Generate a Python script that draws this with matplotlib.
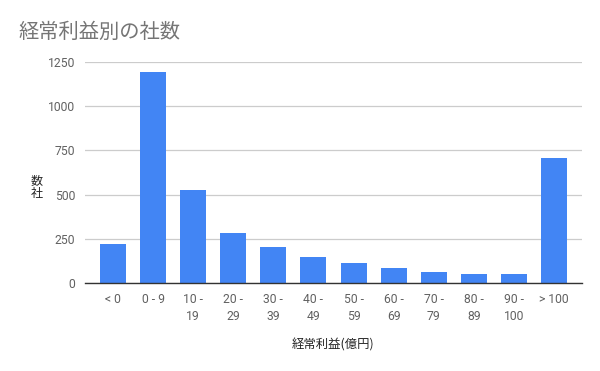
import matplotlib
matplotlib.use("Agg")
import matplotlib.pyplot as plt

plt.rcParams['font.family'] = ['Roboto', 'Noto Sans CJK JP', 'DejaVu Sans']

categories = ["< 0", "0 - 9", "10 -\n19", "20 -\n29", "30 -\n39", "40 -\n49",
              "50 -\n59", "60 -\n69", "70 -\n79", "80 -\n89", "90 -\n100", "> 100"]
values = [220, 1195, 526, 283, 205, 149, 113, 85, 62, 53, 53, 707]
yticks = [0, 250, 500, 750, 1000, 1250]

fig = plt.figure(figsize=(6, 3.71), dpi=100)
ax = fig.add_axes([85/600, 1-283/371, (582-85)/600, (283-62)/371])

x = list(range(len(categories)))
ax.bar(x, values, width=0.65, color='#4285F4', zorder=3)
ax.set_xlim(-0.7, len(categories) - 0.3)
ax.set_ylim(0, 1250)
ax.set_yticks(yticks)
ax.set_yticklabels([str(t) for t in yticks])
ax.set_xticks(x)
ax.set_xticklabels(categories, linespacing=1.4)
ax.grid(axis='y', color='#cccccc', linewidth=0.9, zorder=0)
ax.tick_params(axis='both', length=0, labelsize=8.7, colors='#616161')
ax.tick_params(axis='x', pad=7)
ax.tick_params(axis='y', pad=7)
for s in ['top', 'right', 'left']:
    ax.spines[s].set_visible(False)
ax.spines['bottom'].set_color('#333333')
ax.spines['bottom'].set_linewidth(1.0)
ax.spines['bottom'].set_zorder(4)

fig.text(18/600, 1-32/371, "経常利益別の社数", fontsize=14.6, color='#757575',
         va='center', ha='left', family=['Noto Sans CJK JP'])
fig.text(333/600, 1-345/371, "経常利益(億円)", fontsize=8.9, color='#222222',
         va='center', ha='center', family=['Noto Sans CJK JP'])
fig.text(37/600, 1-187/371, "数\n社", fontsize=8.7, color='#222222',
         va='center', ha='center', linespacing=1.0, family=['Noto Sans CJK JP'])

fig.savefig("out.png", dpi=100)
